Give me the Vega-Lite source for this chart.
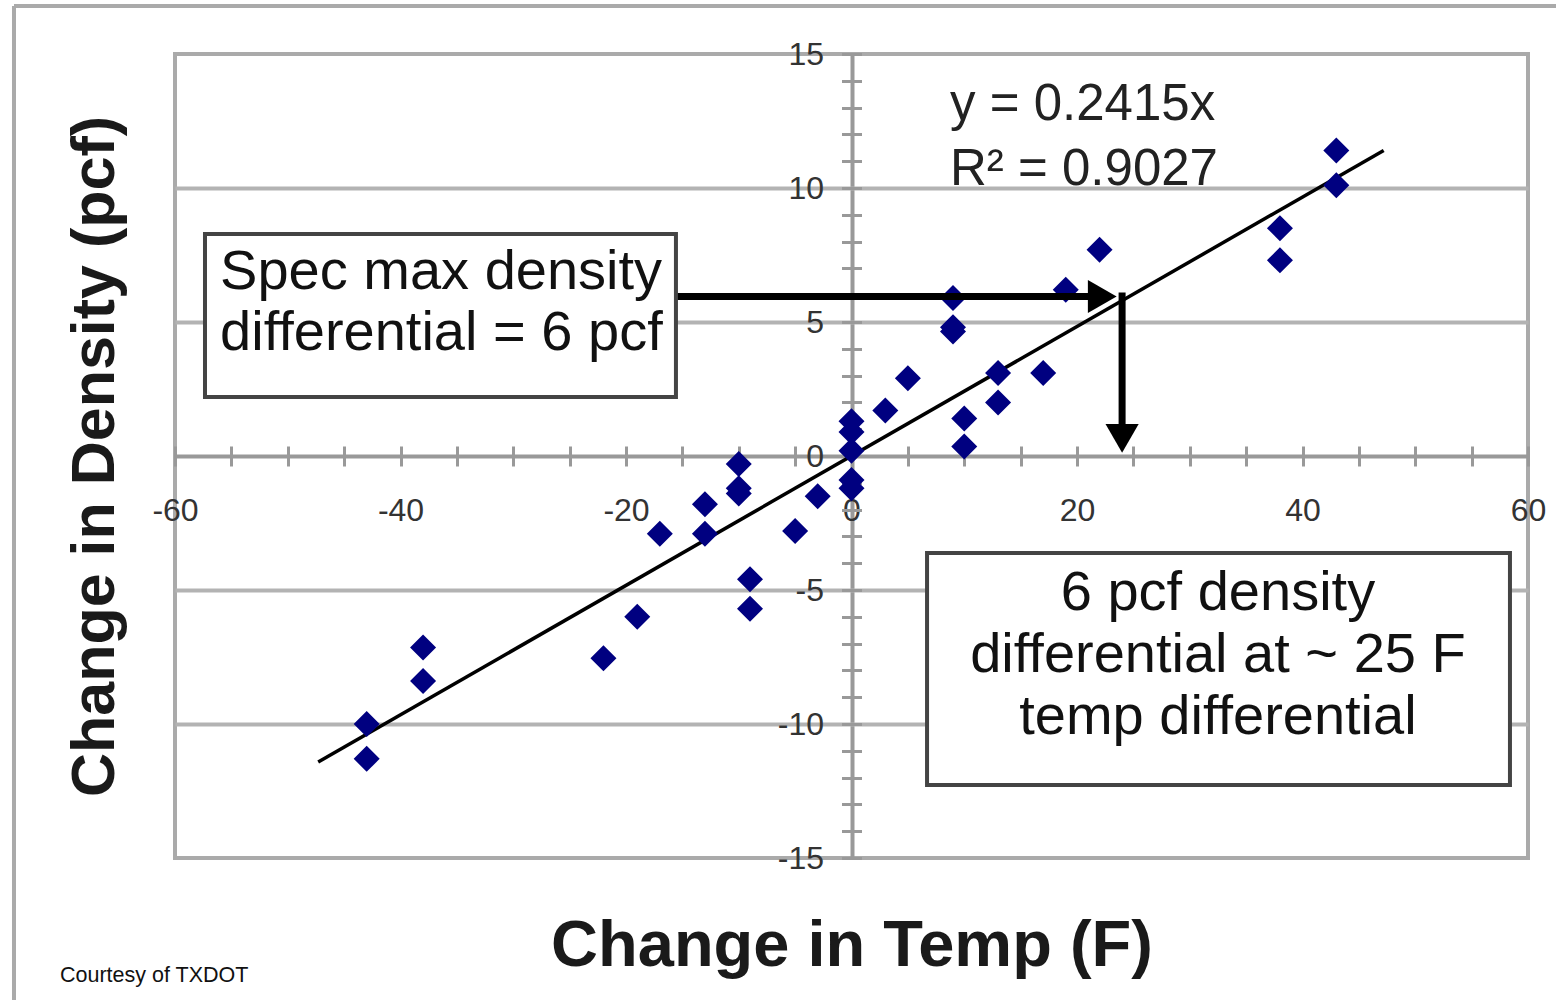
{
  "$schema": "https://vega.github.io/schema/vega-lite/v6.json",
  "width": 1353,
  "height": 804,
  "autosize": "none",
  "padding": {"left": 175, "top": 54, "right": 28, "bottom": 142},
  "background": "white",
  "config": {
    "view": {"stroke": "#aaaaaa", "strokeWidth": 4},
    "font": "Liberation Sans"
  },
  "datasets": {
    "points": [
      {"x": 43, "y": 11.4}, {"x": 43, "y": 10.1}, {"x": 38, "y": 8.5}, {"x": 38, "y": 7.3},
      {"x": 22, "y": 7.7}, {"x": 19, "y": 6.2}, {"x": 9, "y": 5.9}, {"x": 9, "y": 4.8},
      {"x": 9, "y": 4.65}, {"x": 17, "y": 3.1}, {"x": 13, "y": 3.1}, {"x": 13, "y": 2.0},
      {"x": 5, "y": 2.9}, {"x": 3, "y": 1.7}, {"x": 10, "y": 1.4}, {"x": 10, "y": 0.35},
      {"x": 0, "y": 1.3}, {"x": 0, "y": 0.9}, {"x": 0, "y": 0.2}, {"x": 0, "y": -0.9},
      {"x": 0, "y": -1.2}, {"x": -3, "y": -1.5}, {"x": -5, "y": -2.8}, {"x": -10, "y": -0.3},
      {"x": -10, "y": -1.2}, {"x": -10, "y": -1.4}, {"x": -13, "y": -1.8}, {"x": -13, "y": -2.9},
      {"x": -17, "y": -2.9}, {"x": -9, "y": -4.6}, {"x": -9, "y": -5.7}, {"x": -19, "y": -6.0},
      {"x": -22, "y": -7.55}, {"x": -38, "y": -7.15}, {"x": -38, "y": -8.4}, {"x": -43, "y": -10.0},
      {"x": -43, "y": -11.3}
    ],
    "trend": [{"x": -47.3, "y": -11.42}, {"x": 47.2, "y": 11.40}],
    "arrowLines": [
      {"x": -15.57, "x2": 22.6, "y": 5.95, "y2": 5.95},
      {"x": 24, "x2": 24, "y": 6.1, "y2": 0.9}
    ],
    "arrowHeads": [
      {"x": 22.24, "y": 5.95, "dir": "right"},
      {"x": 24, "y": 0.66, "dir": "down"}
    ],
    "boxes": [
      {"x": -57.34, "x2": -15.57, "y": 8.28, "y2": 2.20},
      {"x": 6.70, "x2": 58.40, "y": -3.62, "y2": -12.28}
    ],
    "leftTexts": [
      {"label": "Spec max density", "x": -56.0, "y": 6.87},
      {"label": "differential = 6 pcf", "x": -56.0, "y": 4.59}
    ],
    "centerTexts": [
      {"label": "6 pcf density", "x": 32.5, "y": -5.11},
      {"label": "differential at ~ 25 F", "x": 32.5, "y": -7.43},
      {"label": "temp differential", "x": 32.5, "y": -9.74}
    ],
    "equation": [
      {"label": "y = 0.2415x", "x": 8.74, "y": 13.1},
      {"label": "R² = 0.9027", "x": 8.74, "y": 10.67}
    ],
    "credit": [{"label": "Courtesy of TXDOT", "x": -70.2, "y": -19.4}],
    "frame": [
      {"x": -74.28, "x2": 62.5, "y": 16.79, "y2": 16.79},
      {"x": -74.28, "x2": -74.28, "y": 16.79, "y2": -20.5}
    ]
  },
  "layer": [
    {
      "data": {"name": "trend"},
      "mark": {"type": "line", "color": "black", "strokeWidth": 3.5},
      "encoding": {
        "x": {
          "field": "x", "type": "quantitative",
          "scale": {"domain": [-60, 60], "nice": false, "zero": false},
          "axis": {
            "title": "Change in Temp (F)",
            "values": [-60,-55,-50,-45,-40,-35,-30,-25,-20,-15,-10,-5,0,5,10,15,20,25,30,35,40,45,50,55,60],
            "tickCount": 200,
            "labelExpr": "datum.value % 20 === 0 ? '' + datum.value : ''",
            "offset": -412,
            "domain": false,
            "tickSize": 20, "tickWidth": 3, "tickColor": "#999999",
            "labelPadding": 44, "labelBaseline": "middle",
            "labelFontSize": 32, "labelColor": "#333333",
            "labelFlush": false, "labelOverlap": false,
            "grid": true, "gridColor": "#999999", "gridWidth": 4,
            "gridOpacity": {"condition": {"test": "datum.value === 0", "value": 1}, "value": 0},
            "titleFontSize": 65, "titleFontWeight": "bold", "titleColor": "#1a1a1a",
            "titleX": 676.5, "titleY": 499, "titleBaseline": "middle"
          }
        },
        "y": {
          "field": "y", "type": "quantitative",
          "scale": {"domain": [-15, 15], "nice": false, "zero": false},
          "axis": {
            "title": "Change in Density (pcf)",
            "values": [-15,-14,-13,-12,-11,-10,-9,-8,-7,-6,-5,-4,-3,-2,-1,0,1,2,3,4,5,6,7,8,9,10,11,12,13,14,15],
            "tickCount": 200,
            "labelExpr": "datum.value % 5 === 0 ? '' + datum.value : ''",
            "offset": -686.5,
            "domain": false,
            "tickSize": 20, "tickWidth": 3, "tickColor": "#999999",
            "labelPadding": 18,
            "labelFontSize": 32, "labelColor": "#333333",
            "labelFlush": false, "labelOverlap": false,
            "grid": true, "gridWidth": 4,
            "gridColor": {"condition": {"test": "datum.value === 0", "value": "#999999"}, "value": "#b3b3b3"},
            "gridOpacity": {"condition": {"test": "datum.value % 5 === 0 && abs(datum.value) < 15", "value": 1}, "value": 0},
            "titleFontSize": 61, "titleFontWeight": "bold", "titleColor": "#1a1a1a",
            "titleX": -766.5, "titleY": 402, "titleBaseline": "middle"
          }
        }
      }
    },
    {
      "data": {"name": "points"},
      "mark": {"type": "point", "shape": "diamond", "filled": true, "color": "#000080", "opacity": 1, "size": 676},
      "encoding": {
        "x": {"field": "x", "type": "quantitative"},
        "y": {"field": "y", "type": "quantitative"}
      }
    },
    {
      "data": {"name": "arrowLines"},
      "mark": {"type": "rule", "color": "black", "strokeWidth": 7},
      "encoding": {
        "x": {"field": "x", "type": "quantitative"},
        "x2": {"field": "x2"},
        "y": {"field": "y", "type": "quantitative"},
        "y2": {"field": "y2"}
      }
    },
    {
      "data": {"name": "arrowHeads"},
      "transform": [{"filter": "datum.dir === 'right'"}],
      "mark": {"type": "point", "shape": "triangle-right", "filled": true, "color": "black", "opacity": 1, "size": 1100},
      "encoding": {
        "x": {"field": "x", "type": "quantitative"},
        "y": {"field": "y", "type": "quantitative"}
      }
    },
    {
      "data": {"name": "arrowHeads"},
      "transform": [{"filter": "datum.dir === 'down'"}],
      "mark": {"type": "point", "shape": "triangle-down", "filled": true, "color": "black", "opacity": 1, "size": 1100},
      "encoding": {
        "x": {"field": "x", "type": "quantitative"},
        "y": {"field": "y", "type": "quantitative"}
      }
    },
    {
      "data": {"name": "boxes"},
      "mark": {"type": "rect", "fill": "white", "stroke": "#444444", "strokeWidth": 4},
      "encoding": {
        "x": {"field": "x", "type": "quantitative"},
        "x2": {"field": "x2"},
        "y": {"field": "y", "type": "quantitative"},
        "y2": {"field": "y2"}
      }
    },
    {
      "data": {"name": "leftTexts"},
      "mark": {"type": "text", "align": "left", "baseline": "middle", "fontSize": 56, "color": "#111111", "font": "Liberation Sans"},
      "encoding": {
        "x": {"field": "x", "type": "quantitative"},
        "y": {"field": "y", "type": "quantitative"},
        "text": {"field": "label"}
      }
    },
    {
      "data": {"name": "centerTexts"},
      "mark": {"type": "text", "align": "center", "baseline": "middle", "fontSize": 56, "color": "#111111", "font": "Liberation Sans"},
      "encoding": {
        "x": {"field": "x", "type": "quantitative"},
        "y": {"field": "y", "type": "quantitative"},
        "text": {"field": "label"}
      }
    },
    {
      "data": {"name": "equation"},
      "mark": {"type": "text", "align": "left", "baseline": "middle", "fontSize": 51, "color": "#222222", "font": "Liberation Sans"},
      "encoding": {
        "x": {"field": "x", "type": "quantitative"},
        "y": {"field": "y", "type": "quantitative"},
        "text": {"field": "label"}
      }
    },
    {
      "data": {"name": "credit"},
      "mark": {"type": "text", "align": "left", "baseline": "middle", "fontSize": 21.5, "color": "#111111", "font": "Liberation Sans"},
      "encoding": {
        "x": {"field": "x", "type": "quantitative"},
        "y": {"field": "y", "type": "quantitative"},
        "text": {"field": "label"}
      }
    },
    {
      "data": {"name": "frame"},
      "mark": {"type": "rule", "color": "#aaaaaa", "strokeWidth": 4},
      "encoding": {
        "x": {"field": "x", "type": "quantitative"},
        "x2": {"field": "x2"},
        "y": {"field": "y", "type": "quantitative"},
        "y2": {"field": "y2"}
      }
    }
  ]
}
